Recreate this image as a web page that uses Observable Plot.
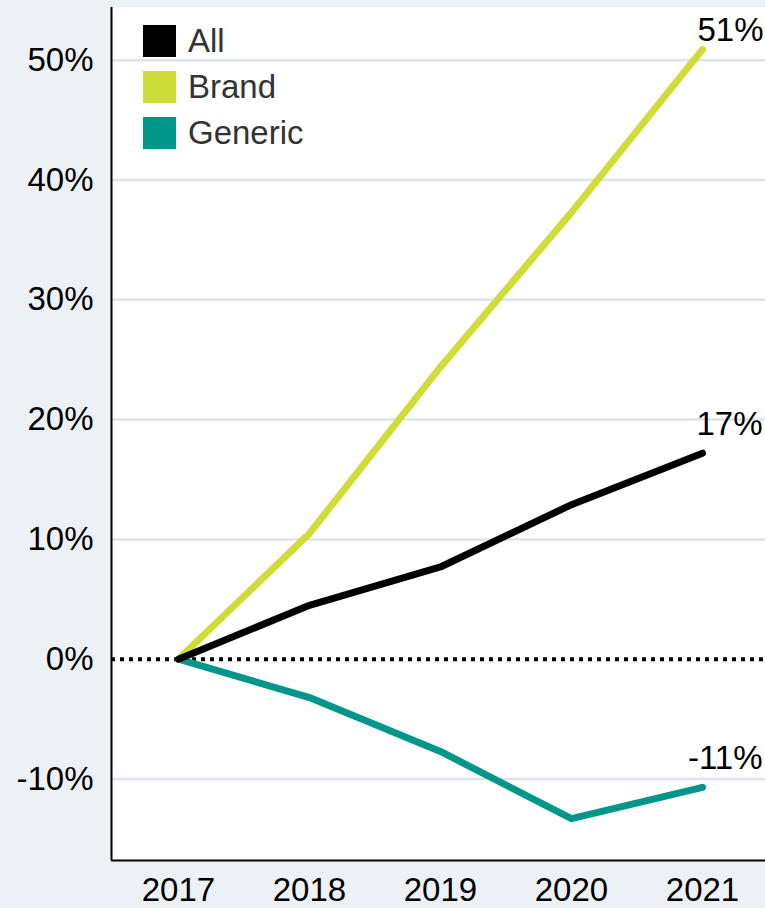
<!DOCTYPE html>
<html>
<head>
<meta charset="utf-8">
<script src="https://cdn.jsdelivr.net/npm/d3@7"></script>
<script src="https://cdn.jsdelivr.net/npm/@observablehq/plot@0.6"></script>
<style>
  html, body { margin: 0; padding: 0; background: #edf1f5; }
  #wrap { position: relative; width: 765px; height: 908px; font-family: "Liberation Sans", Arial, sans-serif; }
  #legend { position: absolute; left: 143px; top: 18px; }
  .item { display: flex; align-items: center; height: 46px; }
  .sw { width: 33px; height: 32px; margin-right: 12px; }
  .lab { font-size: 33px; color: #333; line-height: 34px; }
</style>
</head>
<body>
<div id="wrap"></div>
<script>
const years = [2017, 2018, 2019, 2020, 2021];
const seriesNames = ["All", "Brand", "Generic"];
const allValues = [0, 4.5, 7.7, 12.9, 17.2];
const brandValues = [0, 10.5, 24.4, 37.3, 50.9];
const genericValues = [0, -3.2, -7.7, -13.3, -10.7];
const seriesColors = ["#000000", "#cfdd38", "#00978a"];
const yTicks = [-10, 0, 10, 20, 30, 40, 50];
const endLabels = ["17%", "51%", "-11%"];

const valuesBySeries = {All: allValues, Brand: brandValues, Generic: genericValues};
const drawOrder = ["Generic", "Brand", "All"];
const data = drawOrder.flatMap(s => years.map((yr, i) => ({series: s, year: yr, value: valuesBySeries[s][i]})));
const colorOf = Object.fromEntries(seriesNames.map((s, i) => [s, seriesColors[i]]));
const ends = seriesNames.map((s, i) => ({series: s, year: years[years.length - 1], value: valuesBySeries[s][years.length - 1], label: endLabels[i]}));

const xDomain = [2016.489, 2021.481];
const yDomain = [-16.8, 54.4];
const FS = 33;

const chart = Plot.plot({
  width: 765,
  height: 908,
  marginLeft: 111,
  marginRight: 0,
  marginTop: 7,
  marginBottom: 48,
  style: {background: "#edf1f5", fontFamily: "'Liberation Sans', Arial, sans-serif", fontSize: FS + "px", color: "#000"},
  x: {domain: xDomain},
  y: {domain: yDomain},
  marks: [
    Plot.frame({fill: "white", stroke: null}),
    Plot.ruleY(yTicks.filter(d => d !== 0), {stroke: "#dfe3ea", strokeWidth: 2.5}),
    Plot.ruleY([0], {stroke: "#000", strokeWidth: 4, strokeDasharray: "4,5"}),
    Plot.line(data, {x: "year", y: "value", z: "series", stroke: d => colorOf[d.series], strokeWidth: 7, strokeLinecap: "round", strokeLinejoin: "round"}),
    Plot.text(ends.filter(d => d.series !== "Brand"), {x: "year", y: "value", text: "label", textAnchor: "end", dx: 60, dy: -29, fontSize: FS, fill: "#000"}),
    Plot.text(ends.filter(d => d.series === "Brand"), {x: "year", y: "value", text: "label", textAnchor: "end", dx: 61, dy: -19, fontSize: FS, fill: "#000"}),
    Plot.axisY({ticks: yTicks, tickFormat: d => d + "%", tickSize: 0, tickPadding: 18, fontSize: FS, label: null}),
    Plot.axisX({ticks: years, tickFormat: d => String(d), tickSize: 0, tickPadding: 17, fontSize: FS, label: null}),
    Plot.ruleX([xDomain[0]], {stroke: "#000", strokeWidth: 2}),
    Plot.ruleY([yDomain[0]], {stroke: "#000", strokeWidth: 2})
  ]
});

const wrap = document.getElementById("wrap");
wrap.appendChild(chart);
const legend = document.createElement("div");
legend.id = "legend";
seriesNames.forEach((s, i) => {
  const item = document.createElement("div");
  item.className = "item";
  const sw = document.createElement("div");
  sw.className = "sw";
  sw.style.background = seriesColors[i];
  const lab = document.createElement("span");
  lab.className = "lab";
  lab.textContent = s;
  item.appendChild(sw);
  item.appendChild(lab);
  legend.appendChild(item);
});
wrap.appendChild(legend);
</script>
</body>
</html>
